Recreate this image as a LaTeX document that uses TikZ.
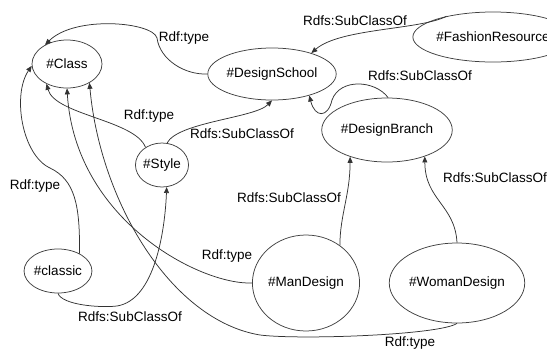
\documentclass[tikz,border=0pt]{standalone}
\usepackage{fontspec}
\setmainfont{Liberation Sans}
\usetikzlibrary{arrows.meta,shapes.geometric}
\begin{document}
\begin{tikzpicture}[x=1pt,y=-1pt,
  cls/.style={draw=black!75,line width=0.75pt,ellipse,inner sep=0pt,font=\fontsize{13.5}{15}\selectfont},
  lab/.style={inner sep=0pt,font=\fontsize{13.5}{15}\selectfont},
  edge/.style={draw=black!80,line width=0.75pt,-{Triangle[length=6pt,width=5pt]}}]
\useasboundingbox (0,0) rectangle (547,349);
\node[cls,minimum width=70pt,minimum height=48pt] (cl) at (67,64) {\#Class};
\node[cls,minimum width=108pt,minimum height=52pt] (school) at (272,74) {\#DesignSchool};
\node[cls,minimum width=118pt,minimum height=50pt] (fashion) at (493,37) {\#FashionResource};
\node[cls,minimum width=104pt,minimum height=64pt] (branch) at (387,130) {\#DesignBranch};
\node[cls,minimum width=52pt,minimum height=44pt] (style) at (162,165) {\#Style};
\node[cls,minimum width=62pt,minimum height=44pt] (classic) at (58,271) {\#classic};
\node[cls,minimum width=96pt,minimum height=96pt] (man) at (306,283) {\#ManDesign};
\node[cls,minimum width=104pt,minimum height=80pt] (woman) at (457,283) {\#WomanDesign};

\draw[edge] (school.180) .. controls (185,75) and (160,60) .. (157,38)
  .. controls (153,22) and (75,15) .. (cl.139);
\draw[edge] (fashion.156) .. controls (420,30) and (340,28) .. (school.28);
\draw[edge] (branch.88) .. controls (375,80) and (340,78) .. (332,100)
  .. controls (328,118) and (315,118) .. (school.-30);
\draw[edge] (style.133) .. controls (135,120) and (55,115) .. (cl.224);
\draw[edge] (style.77) .. controls (178,122) and (255,118) .. (school.270);
\draw[edge] (classic.39) .. controls (80,205) and (75,180) .. (50,168)
  .. controls (22,155) and (12,95) .. (cl.183);
\draw[edge] (classic.270) .. controls (62,305) and (100,308) .. (117,306)
  .. controls (155,300) and (165,230) .. (style.282);
\draw[edge] (man.180) .. controls (200,285) and (75,220) .. (cl.270);
\draw[edge] (man.48) .. controls (340,215) and (350,195) .. (branch.216);
\draw[edge] (woman.90) .. controls (455,205) and (425,200) .. (branch.325);
\draw[edge] (woman.270) .. controls (440,335) and (300,340) .. (260,335)
  .. controls (170,320) and (100,200) .. (cl.320);

\node[lab] (l1) at (184,38) {Rdf:type};
\node[lab] (l2) at (355,21) {Rdfs:SubClassOf};
\node[lab] (l3) at (420,76) {Rdfs:SubClassOf};
\node[lab] (l4) at (149,116) {Rdf:type};
\node[lab] (l5) at (242,134) {Rdfs:SubClassOf};
\node[lab] (l6) at (35,186) {Rdf:type};
\node[lab] (l7) at (130,317) {Rdfs:SubClassOf};
\node[lab] (l8) at (227,256) {Rdf:type};
\node[lab] (l9) at (289,198) {Rdfs:SubClassOf};
\node[lab] (l10) at (495,178) {Rdfs:SubClassOf};
\node[lab] (l11) at (410,343) {Rdf:type};
\end{tikzpicture}
\end{document}
